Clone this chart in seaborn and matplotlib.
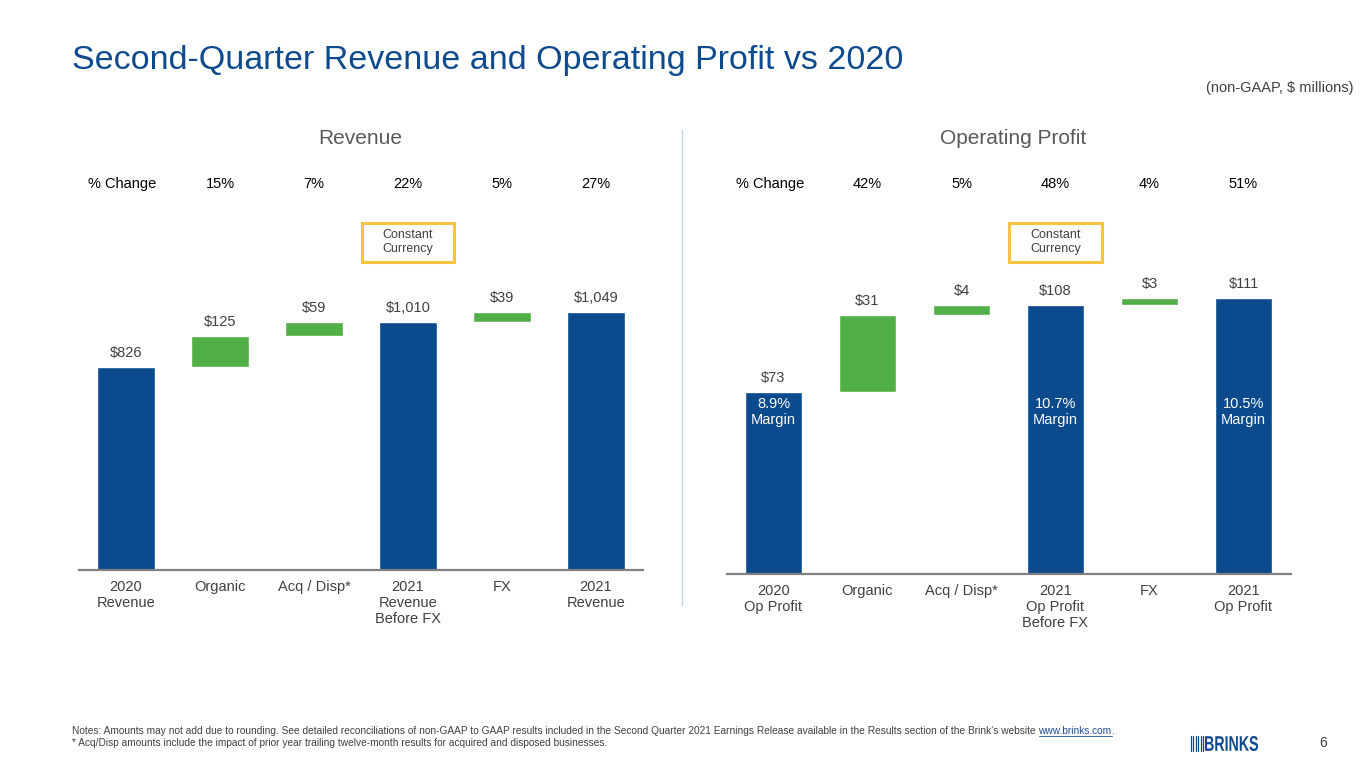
import pandas as pd
import matplotlib.pyplot as plt
import matplotlib.transforms as mtransforms
from matplotlib.patches import Rectangle, PathPatch
from matplotlib.lines import Line2D
from matplotlib.textpath import TextPath
from matplotlib.font_manager import FontProperties
import seaborn as sns

# data
rev_steps = ["2020\nRevenue", "Organic", "Acq / Disp*", "2021\nRevenue\nBefore FX", "FX", "2021\nRevenue"]
rev_values = [826, 125, 59, 1010, 39, 1049]
rev_is_total = [True, False, False, True, False, True]
rev_pct = ["15%", "7%", "22%", "5%", "27%"]

op_steps = ["2020\nOp Profit", "Organic", "Acq / Disp*", "2021\nOp Profit\nBefore FX", "FX", "2021\nOp Profit"]
op_values = [73, 31, 4, 108, 3, 111]
op_is_total = [True, False, False, True, False, True]
op_pct = ["42%", "5%", "48%", "4%", "51%"]
op_margins = ["8.9%\nMargin", None, None, "10.7%\nMargin", None, "10.5%\nMargin"]

BLUE = "#0b4a8c"
GREEN = "#52ae47"
GOLD = "#f5c342"
GRAY = "#404040"

sns.set_theme(style="white")
plt.rcParams["font.family"] = ["Liberation Sans", "DejaVu Sans"]

W, H = 1365, 768
fig = plt.figure(figsize=(13.65, 7.68), dpi=100)


def waterfall_frame(steps, values, is_total):
    base, running = [], 0
    for v, tot in zip(values, is_total):
        if tot:
            base.append(0)
            running = v
        else:
            base.append(running)
            running += v
    return pd.DataFrame({"step": steps, "value": values, "base": base,
                         "top": [b + v for b, v in zip(base, values)],
                         "total": is_total})


def draw_panel(rect, ymax, steps, values, is_total, pct, title, title_x, margins=None):
    ax = fig.add_axes(rect)
    df = waterfall_frame(steps, values, is_total)
    totals = df[df["total"]]
    changes = df[~df["total"]]
    sns.barplot(data=totals, x="step", y="value", order=steps, color=BLUE,
                width=0.61, saturation=1, ax=ax)
    sns.barplot(data=changes, x="step", y="value", order=steps, color=GREEN,
                bottom=changes["base"].tolist(), width=0.61, saturation=1, ax=ax)
    ax.set_xlim(-0.5, len(steps) - 0.5)
    ax.set_ylim(0, ymax)
    ax.set_xlabel("")
    ax.set_ylabel("")
    ax.set_yticks([])
    for s in ["top", "left", "right"]:
        ax.spines[s].set_visible(False)
    ax.spines["bottom"].set_color("#808080")
    ax.spines["bottom"].set_linewidth(1.6)
    ax.tick_params(axis="x", length=0, pad=7, labelsize=10.5, labelcolor=GRAY)

    blend = mtransforms.blended_transform_factory(ax.transData, fig.transFigure)
    for i, row in df.iterrows():
        ax.annotate(f"${row['value']:,}", (i, row["top"]), xytext=(0, 5),
                    textcoords="offset points", ha="center", va="bottom",
                    fontsize=10.5, color=GRAY)
        if margins and margins[i]:
            ax.text(i, 1 - 412 / H, margins[i], transform=blend, ha="center",
                    va="center", fontsize=10.5, color="white", linespacing=1.15)

    ax.text(-0.04, 1 - 184 / H, "% Change", transform=blend, ha="center", va="center",
            fontsize=10.5, color="black")
    for i, p in enumerate(pct):
        ax.text(i + 1, 1 - 184 / H, p, transform=blend, ha="center", va="center",
                fontsize=10.5, color="black")

    ax.add_patch(Rectangle((3 - 0.49, 1 - 262 / H), 0.98, 39 / H, transform=blend,
                           fill=False, edgecolor=GOLD, linewidth=2.2, clip_on=False))
    ax.text(3, 1 - 242 / H, "Constant\nCurrency", transform=blend, ha="center",
            va="center", fontsize=9, color=GRAY, linespacing=1.2)

    fig.text(title_x / W, 1 - 138 / H, title, ha="center", va="center",
             fontsize=15, color="#595959")
    return ax


draw_panel([79 / W, 1 - 570 / H, 564 / W, 410 / H], 410 / 0.246,
           rev_steps, rev_values, rev_is_total, rev_pct, "Revenue", 360)
draw_panel([726.5 / W, 1 - 574 / H, 564 / W, 414 / H], 414 / 2.49,
           op_steps, op_values, op_is_total, op_pct, "Operating Profit", 1013,
           margins=op_margins)

# divider
fig.add_artist(Line2D([682 / W, 682 / W], [1 - 130 / H, 1 - 605 / H],
                      color="#c5d9ec", linewidth=1, transform=fig.transFigure))

fig.text(72 / W, 1 - 60 / H, "Second-Quarter Revenue and Operating Profit vs 2020",
         ha="left", va="center", fontsize=24.5, color="#0d4a8e")
fig.text(1354 / W, 1 - 88 / H, "(non-GAAP, $ millions)", ha="right", va="center",
         fontsize=10.5, color=GRAY)

note1 = fig.text(72 / W, 1 - 731 / H,
                 "Notes: Amounts may not add due to rounding. See detailed reconciliations of "
                 "non-GAAP to GAAP results included in the Second Quarter 2021 Earnings Release "
                 "available in the Results section of the Brink\u2019s website ",
                 ha="left", va="center", fontsize=7.3, color=GRAY)
fig.canvas.draw()
bb = note1.get_window_extent(fig.canvas.get_renderer())
link = fig.text(bb.x1 / W, 1 - 731 / H, "www.brinks.com", ha="left", va="center",
                fontsize=7.3, color="#1f4e9c")
fig.canvas.draw()
lb = link.get_window_extent(fig.canvas.get_renderer())
fig.add_artist(Line2D([lb.x0 / W, lb.x1 / W], [(lb.y0 + 0.5) / H] * 2, color="#1f4e9c",
                      linewidth=0.6, transform=fig.transFigure))
fig.text(lb.x1 / W, 1 - 731 / H, ".", ha="left", va="center", fontsize=7.3, color=GRAY)
fig.text(72 / W, 1 - 743 / H,
         "* Acq/Disp amounts include the impact of prior year trailing twelve-month results "
         "for acquired and disposed businesses.",
         ha="left", va="center", fontsize=7.3, color=GRAY)

# logo: thin bars plus condensed bold wordmark
for k in range(6):
    x = (1191 + k * 2.4) / W
    fig.add_artist(Line2D([x, x], [1 - 736 / H, 1 - 751 / H], color=BLUE,
                          linewidth=0.9, transform=fig.transFigure))
tp = TextPath((0, 0), "BRINKS", size=20,
              prop=FontProperties(family="Liberation Sans", weight="bold"))
ext = tp.get_extents()
logo_tf = (mtransforms.Affine2D().translate(-ext.x0, -ext.y0)
           .scale(53 / ext.width, 15 / ext.height).translate(1205, H - 751))
fig.add_artist(PathPatch(logo_tf.transform_path(tp), facecolor=BLUE, edgecolor="none",
                         transform=mtransforms.IdentityTransform()))
fig.text(1323 / W, 1 - 743 / H, "6", ha="center", va="center", fontsize=10, color=GRAY)

fig.savefig("out.png", dpi=100)
